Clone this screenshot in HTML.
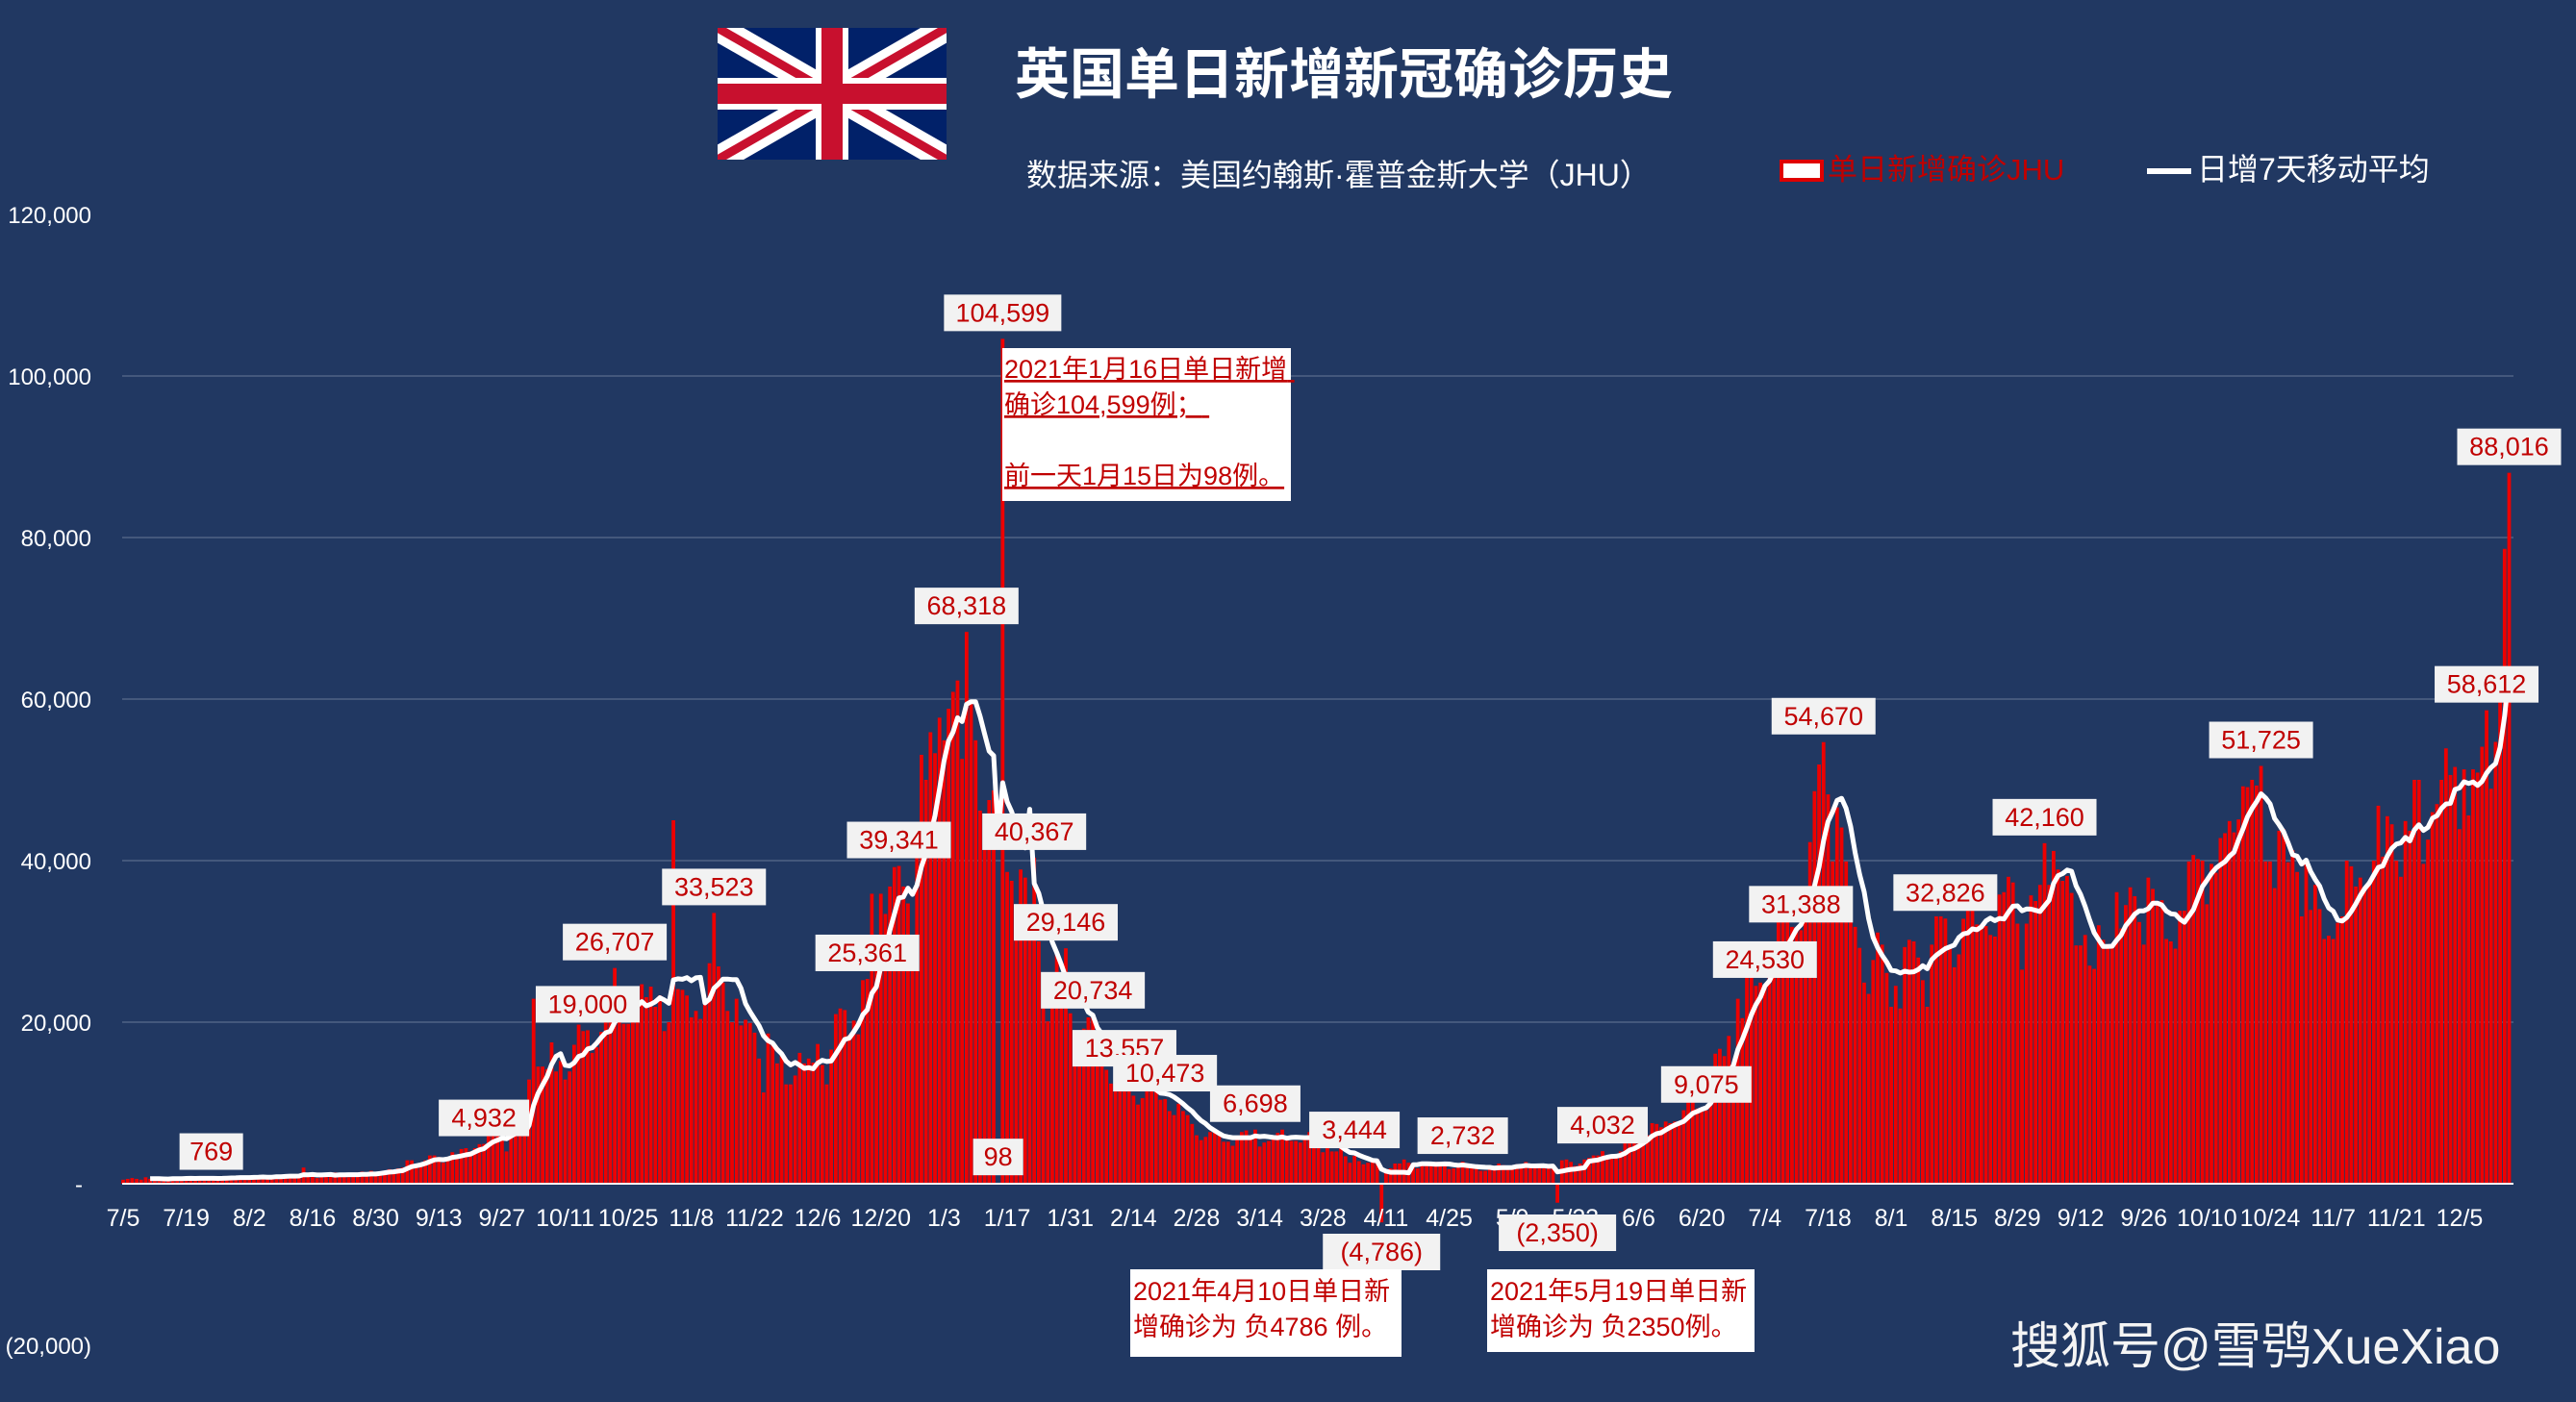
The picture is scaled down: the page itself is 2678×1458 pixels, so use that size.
<!DOCTYPE html>
<html><head><meta charset="utf-8">
<style>
html,body{margin:0;padding:0;background:#213862;}
#wrap{position:relative;width:2678px;height:1458px;background:#213862;overflow:hidden;font-family:"Liberation Sans","Noto Sans CJK SC",sans-serif;}
svg{position:absolute;left:0;top:0;}
</style></head>
<body>
<div id="wrap">
<svg id="chart" width="2678" height="1458" viewBox="0 0 2678 1458">
  <g>
    <clipPath id="fc"><rect x="746" y="29" width="238" height="137"/></clipPath>
    <g clip-path="url(#fc)">
      <rect x="746" y="29" width="238" height="137" fill="#012169"/>
      <path d="M746 29 L984 166 M984 29 L746 166" stroke="#fff" stroke-width="27"/>
      <path d="M746 29 L984 166 M984 29 L746 166" stroke="#C8102E" stroke-width="9"/>
      <rect x="746" y="81" width="238" height="33" fill="#fff"/>
      <rect x="848" y="29" width="34" height="137" fill="#fff"/>
      <rect x="746" y="87" width="238" height="21" fill="#C8102E"/>
      <rect x="854" y="29" width="22" height="137" fill="#C8102E"/>
    </g>
  </g>
  <text x="1055" y="97" font-size="57" font-weight="bold" fill="#fff" font-family="Liberation Sans,Noto Sans CJK SC,sans-serif">英国单日新增新冠确诊历史</text>
  <text x="1067" y="193" font-size="32" fill="#fff">数据来源：美国约翰斯·霍普金斯大学（JHU）</text>
  <g>
    <rect x="1852" y="168" width="42" height="19" fill="#fff" stroke="#e00000" stroke-width="4"/>
    <text x="1900" y="187" font-size="31" fill="#c00000">单日新增确诊JHU</text>
  </g>
  <g>
    <line x1="2232" y1="178" x2="2278" y2="178" stroke="#fff" stroke-width="6"/>
    <text x="2284" y="187" font-size="32" fill="#fff">日增7天移动平均</text>
  </g>
  <g id="grid"></g>
  <g id="bars"></g>
  <g id="axes"></g>
  <g id="line"></g>
  <g id="labels"></g>
  <g>
    <rect x="1042" y="362" width="300" height="159" fill="#fff"/>
    <text font-size="27" fill="#c00000" text-decoration="underline">
      <tspan x="1044" y="393">2021年1月16日单日新增</tspan>
      <tspan x="1044" y="430">确诊104,599例；</tspan>
      <tspan x="1044" y="504">前一天1月15日为98例。</tspan>
    </text>
  </g>
  <g>
    <rect x="1175" y="1320" width="282" height="91" fill="#fff"/>
    <text font-size="27" fill="#c00000">
      <tspan x="1178" y="1352">2021年4月10日单日新</tspan>
      <tspan x="1178" y="1389">增确诊为 负4786 例。</tspan>
    </text>
  </g>
  <g>
    <rect x="1546" y="1320" width="278" height="86" fill="#fff"/>
    <text font-size="27" fill="#c00000">
      <tspan x="1549" y="1352">2021年5月19日单日新</tspan>
      <tspan x="1549" y="1389">增确诊为 负2350例。</tspan>
    </text>
  </g>
  <text x="2090" y="1418" font-size="52" fill="#f4f4f4">搜狐号@雪鸮XueXiao</text>
</svg>
</div>
<script>
// daily new cases (thousands), starting 2020-07-05
const dailyCases = [
0.5,0.6,0.7,0.6,0.5,0.8,0.6,
0.6,0.5,0.6,0.5,0.8,0.7,0.7,
0.769,0.6,0.5,0.6,0.8,0.7,0.7,
0.7,0.7,0.6,0.8,0.9,0.9,0.7,
0.7,0.9,0.7,1.0,0.8,0.9,1.1,
0.7,1.1,1.0,1.0,0.9,2.0,1.0,
1.0,0.7,1.0,1.2,1.1,1.4,1.3,
1.0,0.8,1.0,1.2,1.5,1.3,1.6,
1.0,1.3,1.6,1.8,1.7,1.9,2.0,
2.9,2.9,2.4,2.6,2.9,3.5,3.5,
3.3,2.6,3.1,3.9,3.4,4.3,4.4,
4.0,4.4,4.9,4.932,6.6,6.9,6.0,
5.7,4.0,7.1,7.1,6.9,6.9,12.9,
22.9,14.5,14.5,14.2,17.5,13.9,15.2,
12.9,13.9,17.2,19.7,18.9,19.0,16.2,
16.9,18.8,21.3,21.0,26.707,23.0,19.8,
19.8,20.9,22.9,24.7,23.1,24.4,21.9,
23.3,18.9,20.0,45.0,24.1,24.0,23.3,
20.6,21.4,20.4,22.9,27.3,33.523,26.9,
24.9,21.4,20.0,22.9,19.6,20.3,19.9,
18.7,15.5,11.3,18.6,17.6,14.9,16.0,
12.3,12.3,13.4,16.2,14.9,15.5,15.0,
17.3,14.7,12.3,16.6,21.0,21.7,21.5,
18.4,20.2,18.5,25.2,25.361,35.9,27.1,
35.9,33.4,36.8,39.2,39.341,36.8,34.7,
30.5,41.4,53.1,50.0,55.9,53.3,57.7,
54.9,58.8,60.9,62.3,52.6,68.318,59.9,
54.9,46.2,45.5,47.5,48.7,0.098,104.599,
38.6,37.5,33.4,38.9,37.9,33.6,40.367,
30.0,22.2,20.1,25.3,28.7,23.3,29.146,
21.1,18.6,16.7,19.2,20.6,20.734,18.3,
15.8,14.1,12.4,13.0,15.1,13.557,13.3,
10.9,9.8,10.6,12.7,12.1,12.0,10.4,
10.473,9.0,8.5,9.9,9.0,8.5,7.4,
6.0,5.4,5.8,6.4,6.6,6.0,5.2,
5.2,4.7,5.8,6.4,6.6,6.0,6.698,
4.6,5.1,5.3,5.8,6.3,6.7,5.6,
5.3,5.3,5.1,5.6,6.4,6.2,5.0,
3.9,4.7,4.0,4.0,4.5,3.4,2.6,
3.444,2.8,2.4,2.6,3.0,3.1,-4.786,
1.7,1.9,2.5,2.5,3.0,2.6,2.2,
1.9,2.6,2.5,2.4,2.7,2.7,2.4,
1.8,1.9,2.0,2.732,2.2,2.2,1.9,
1.6,1.6,1.9,2.1,2.5,2.3,1.9,
1.8,2.4,2.2,2.7,2.2,2.2,2.0,
1.9,1.9,2.4,-2.35,2.9,3.0,2.7,
2.2,2.5,3.0,3.2,3.5,3.5,4.032,
3.2,3.2,3.2,4.0,5.3,6.2,5.3,
5.3,5.7,6.0,7.5,7.4,7.0,7.7,
7.5,7.7,7.6,9.1,11.0,10.5,9.3,
9.3,9.075,11.6,16.1,16.7,15.8,18.3,
14.9,22.9,20.5,26.1,27.9,24.5,24.9,
24.53,27.3,28.7,32.5,32.6,35.7,31.8,
31.8,31.388,36.7,42.3,48.6,51.9,54.67,
48.2,39.9,46.6,44.1,39.9,36.4,31.8,
29.2,24.9,23.5,27.7,31.1,29.6,26.1,
21.9,24.5,21.7,29.3,30.2,30.0,28.0,
25.2,21.9,29.6,33.1,33.1,32.826,29.5,
26.8,28.4,32.8,33.9,36.6,32.1,32.1,
31.9,30.8,30.6,35.8,36.1,38.0,37.3,
32.2,26.5,32.2,35.7,35.0,37.0,42.16,
37.0,41.2,38.9,37.5,38.1,36.0,29.5,
29.5,30.8,27.0,26.6,32.0,30.2,29.6,
29.6,36.1,31.6,34.5,36.7,35.6,32.4,
29.6,37.9,36.5,34.5,35.1,30.3,30.0,
29.1,33.8,33.8,39.9,40.7,40.2,40.0,
34.6,39.6,38.5,42.8,43.4,44.9,43.5,
45.1,49.2,49.1,50.0,49.3,51.725,39.9,
39.9,36.6,43.7,43.9,39.8,41.3,38.6,
33.1,40.0,33.9,37.0,34.0,30.3,30.7,
30.3,32.3,33.1,40.0,39.3,36.8,37.9,
36.4,37.0,40.0,46.8,40.5,45.5,44.5,
40.0,38.0,44.9,43.7,50.0,50.0,39.6,
42.6,46.0,47.0,50.0,53.9,50.6,51.6,
43.9,51.3,45.6,51.3,50.9,54.1,58.612,
48.9,54.7,59.6,78.6,88.016
];
const yTickValues = [120,100,80,60,40,20,0,-20];
const yTickLabels = ["120,000","100,000","80,000","60,000","40,000","20,000","-","(20,000)"];
const xTickLabels = ["7/5","7/19","8/2","8/16","8/30","9/13","9/27","10/11","10/25","11/8","11/22","12/6","12/20","1/3","1/17","1/31","2/14","2/28","3/14","3/28","4/11","4/25","5/9","5/23","6/6","6/20","7/4","7/18","8/1","8/15","8/29","9/12","9/26","10/10","10/24","11/7","11/21","12/5"];
const labelIndices = [14,80,103,109,131,165,172,187,195,194,202,209,215,222,231,251,273,279,297,318,328,351,364,372,377,404,426,474,524,529];

const NS="http://www.w3.org/2000/svg";
const X0=128, DX=4.689, Y0=1231, PY=8.4;
function xS(i){return X0+i*DX;}
function yS(v){return Y0-v*PY;}
function mk(tag,attrs,parent){const e=document.createElementNS(NS,tag);for(const k in attrs)e.setAttribute(k,attrs[k]);parent.appendChild(e);return e;}
function fmt(v){const n=Math.round(Math.abs(v)*1000);const s=n.toLocaleString('en-US');return v<0?"("+s+")":s;}

const grid=document.getElementById('grid');
yTickValues.forEach((v,i)=>{
  if(v>0 && v<=100){
    const l=mk('line',{x1:127,x2:2613,y1:yS(v),y2:yS(v),stroke:'#44587c','stroke-width':2},grid);
    
    
  }
  const t=mk('text',{x:v===0?82:95,y:yS(v)+9,'font-size':24,fill:'#fff','text-anchor':v===0?'middle':'end'},grid);
  t.textContent=yTickLabels[i];
  
  
});

const bars=document.getElementById('bars');
dailyCases.forEach((v,i)=>{
  const y1=Math.min(yS(v),Y0), h=Math.abs(yS(v)-Y0);
  const r=mk('rect',{x:xS(i)-1.9,y:y1,width:3.8,height:Math.max(h,0.5),fill:'#ee0000'},bars);
  
  
});

const axes=document.getElementById('axes');
const base=mk('line',{x1:127,x2:2613,y1:Y0,y2:Y0,stroke:'#fff','stroke-width':2},axes);


xTickLabels.forEach((s,i)=>{
  const t=mk('text',{x:xS(i*14),y:1275,'font-size':25,fill:'#fff','text-anchor':'middle'},axes);
  t.textContent=s;
  
  
});

// 7-day moving average derived from daily data
const pts=[];
for(let i=6;i<dailyCases.length;i++){
  let s=0;for(let k=i-6;k<=i;k++)s+=dailyCases[k];
  pts.push(xS(i).toFixed(1)+","+yS(s/7).toFixed(1));
}
const ma=mk('polyline',{points:pts.join(" "),fill:'none',stroke:'#fff','stroke-width':5,'stroke-linejoin':'round'},document.getElementById('line'));



const lg=document.getElementById('labels');
labelIndices.forEach(idx=>{
  const v=dailyCases[idx], s=fmt(v);
  const w=s.length*14+24, h=38;
  let cx=xS(idx);
  if(idx===14) cx+=26;
  let top = v<0 ? Y0+(idx===279?52:32) : yS(v)-h-8;
  const g=mk('g',{},lg);
  
  
  mk('rect',{x:cx-w/2,y:top,width:w,height:h,fill:'#f2f2f2'},g);
  const t=mk('text',{x:cx,y:top+28,'font-size':27,fill:'#c00000','text-anchor':'middle'},g);
  t.textContent=s;
});
</script>
</body></html>
